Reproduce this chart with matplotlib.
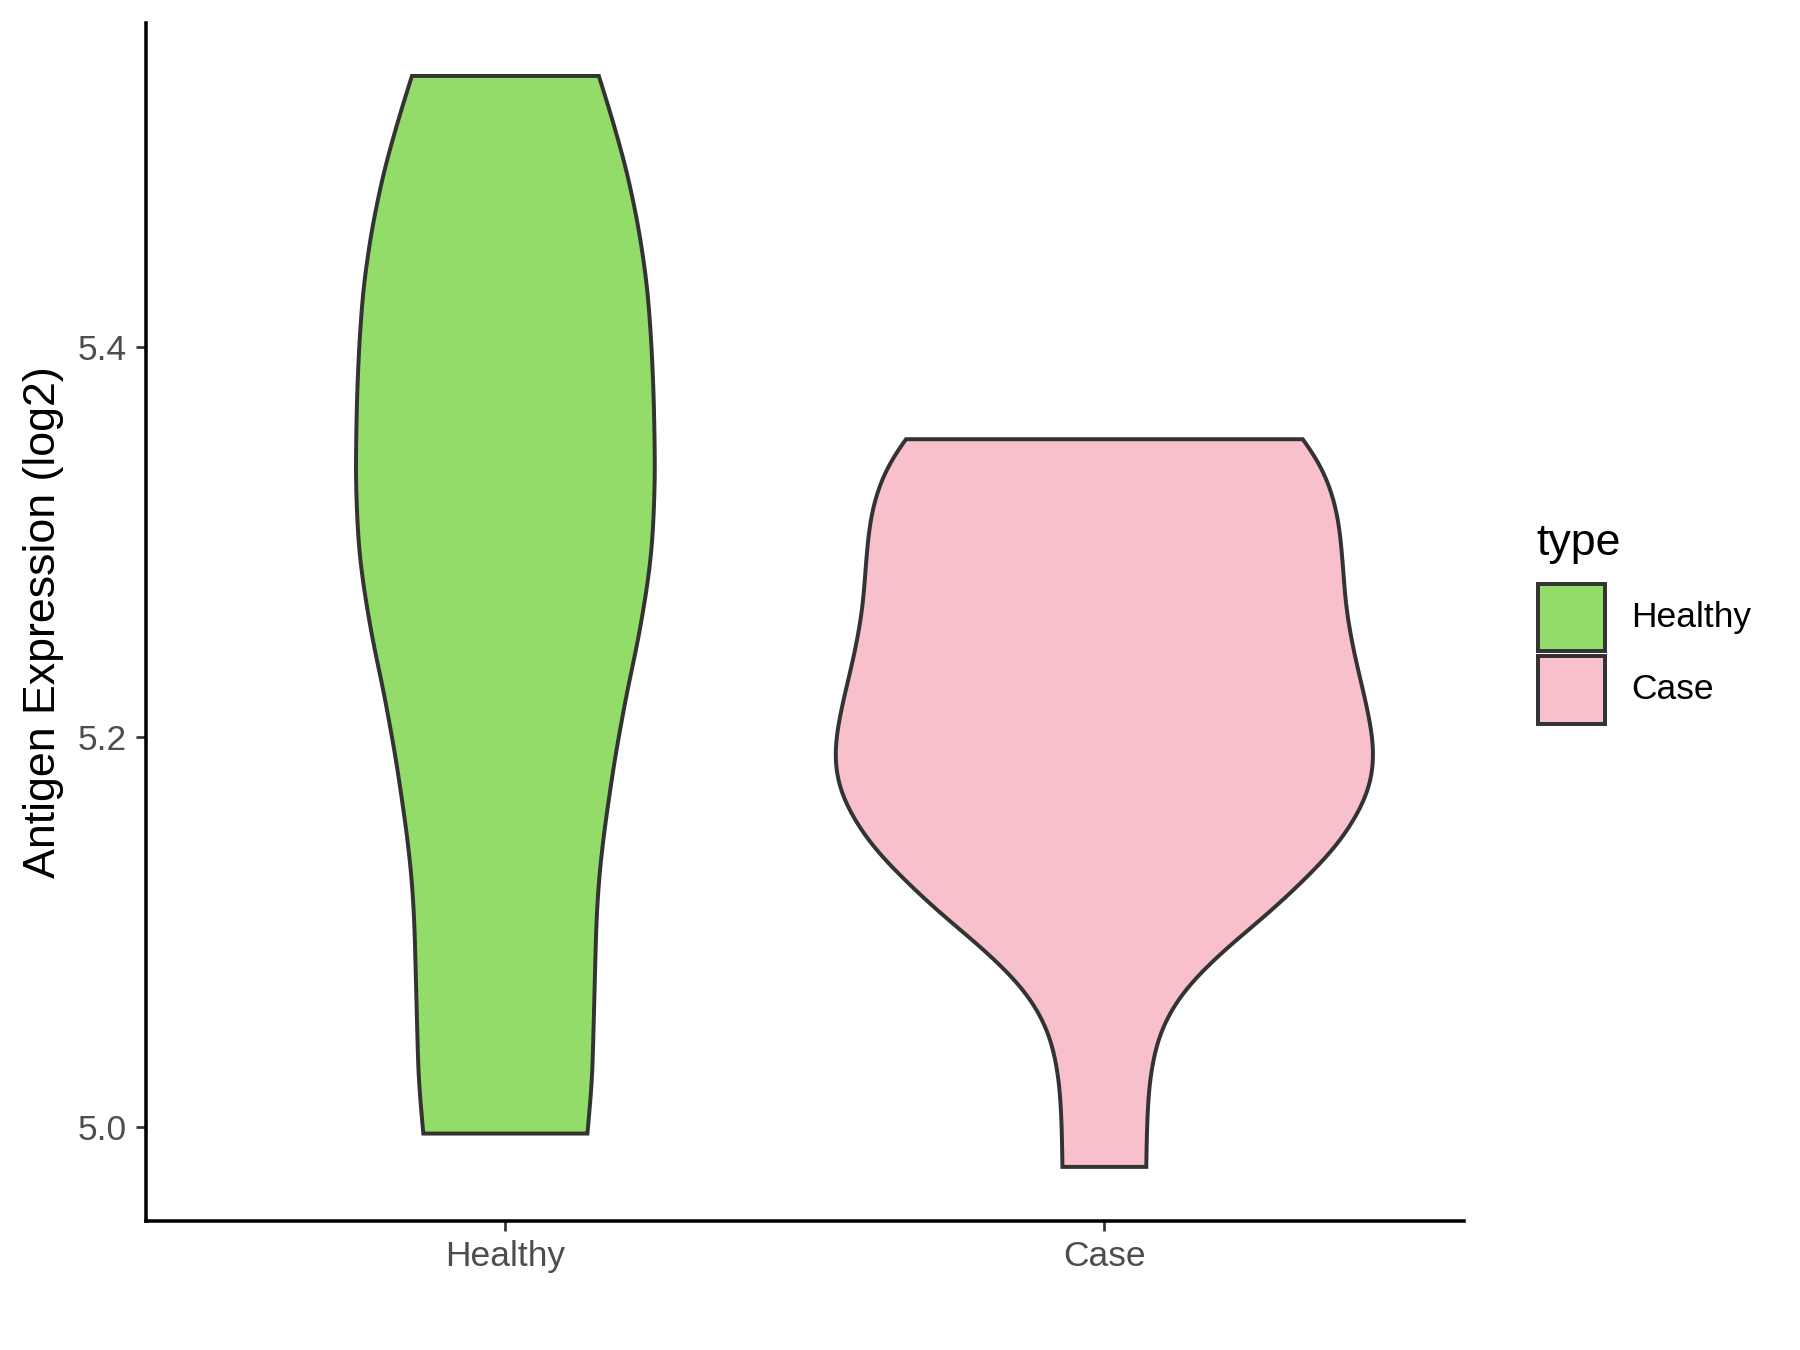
import numpy as np
import matplotlib
matplotlib.use("Agg")
import matplotlib.pyplot as plt
from matplotlib.patches import Rectangle

plt.rcParams['font.family'] = ['Liberation Sans', 'DejaVu Sans']

# ---------------- data ----------------
categories = ["Healthy", "Case"]
colors = ["#93DC6A", "#F7C0CB"]
y_ticks = [5.0, 5.2, 5.4]
y_tick_labels = ["5.0", "5.2", "5.4"]

# violin outline: expression level and half-width (category units)
healthy_expr = [4.9965, 5.0242, 5.0596, 5.0830, 5.1070, 5.1304, 5.1540, 5.1894, 5.2248, 5.2455,
                5.2661, 5.2840, 5.3015, 5.3339, 5.3723, 5.4018, 5.4313, 5.4608, 5.4903, 5.5198,
                5.5392]
healthy_halfwidth = [0.137, 0.145, 0.148, 0.150, 0.152, 0.157, 0.166, 0.183, 0.204, 0.219,
                     0.231, 0.240, 0.246, 0.250, 0.248, 0.244, 0.237, 0.223, 0.203, 0.176,
                     0.156]

case_expr = [4.9794, 5.0006, 5.0242, 5.0478, 5.0684, 5.0891, 5.1127, 5.1422, 5.1569, 5.1717,
             5.1882, 5.2012, 5.2189, 5.2425, 5.2661, 5.2897, 5.3133, 5.3310, 5.3428, 5.3528]
case_halfwidth = [0.070, 0.071, 0.075, 0.090, 0.126, 0.193, 0.287, 0.385, 0.417, 0.443,
                  0.452, 0.448, 0.436, 0.417, 0.403, 0.398, 0.391, 0.375, 0.357, 0.332]

profiles = [(healthy_expr, healthy_halfwidth), (case_expr, case_halfwidth)]


def smooth_outline(ys, ws, n=800, sigma_val=0.010):
    ys = np.asarray(ys, float)
    ws = np.asarray(ws, float)
    yg = np.linspace(ys[0], ys[-1], n)
    wg = np.interp(yg, ys, ws)
    step = yg[1] - yg[0]
    s = sigma_val / step
    half = int(4 * s)
    k = np.exp(-0.5 * (np.arange(-half, half + 1) / s) ** 2)
    k /= k.sum()
    left = wg[0] + np.arange(-half, 0) * (wg[1] - wg[0])
    right = wg[-1] + np.arange(1, half + 1) * (wg[-1] - wg[-2])
    padded = np.concatenate([left, wg, right])
    ws_s = np.convolve(padded, k, mode="valid")
    return yg, ws_s


fig = plt.figure(figsize=(12, 9), dpi=150)
ax = fig.add_axes([0.0811, 0.0958, 0.7321, 0.8872])

edge = "#333333"
for i, ((ys, ws), col) in enumerate(zip(profiles, colors)):
    cx = i + 1
    yy, ww = smooth_outline(ys, ws)
    xs = np.concatenate([cx + ww, (cx - ww)[::-1]])
    ys_poly = np.concatenate([yy, yy[::-1]])
    ax.fill(xs, ys_poly, facecolor=col, edgecolor=edge, linewidth=1.9, joinstyle='miter', zorder=3)

ax.set_xlim(0.4, 2.6)
ax.set_ylim(4.9518, 5.5664)
ax.set_xticks([1, 2])
ax.set_xticklabels(categories)
ax.set_yticks(y_ticks)
ax.set_yticklabels(y_tick_labels)

for s in ["top", "right"]:
    ax.spines[s].set_visible(False)
for s in ["left", "bottom"]:
    ax.spines[s].set_color("black")
    ax.spines[s].set_linewidth(1.7)

ax.tick_params(axis="both", which="major", length=4.8, width=1.3, color="#333333",
               labelsize=17, labelcolor="#4D4D4D", pad=4.4)

fig.text(44 / 1800, 1 - 621.9 / 1350, "Antigen Expression (log2)", rotation=90,
         ha="center", va="center", fontsize=21.5, color="black")

# legend
W, H = 1800, 1350
fig.text(1536 / W, 1 - 543 / H, "type", ha="left", va="center", fontsize=21.5, color="black")
key_tops = [583.5, 656]
key_h = 67.5
for (lab, col, top) in zip(categories, colors, key_tops):
    rect = Rectangle((1538 / W, 1 - (top + key_h) / H), 67 / W, key_h / H,
                     transform=fig.transFigure, facecolor=col, edgecolor=edge, linewidth=1.9)
    fig.add_artist(rect)
    fig.text(1631 / W, 1 - (top + key_h / 2) / H, lab, ha="left", va="center",
             fontsize=17, color="black")

fig.savefig("out.png", dpi=150, facecolor="white")
